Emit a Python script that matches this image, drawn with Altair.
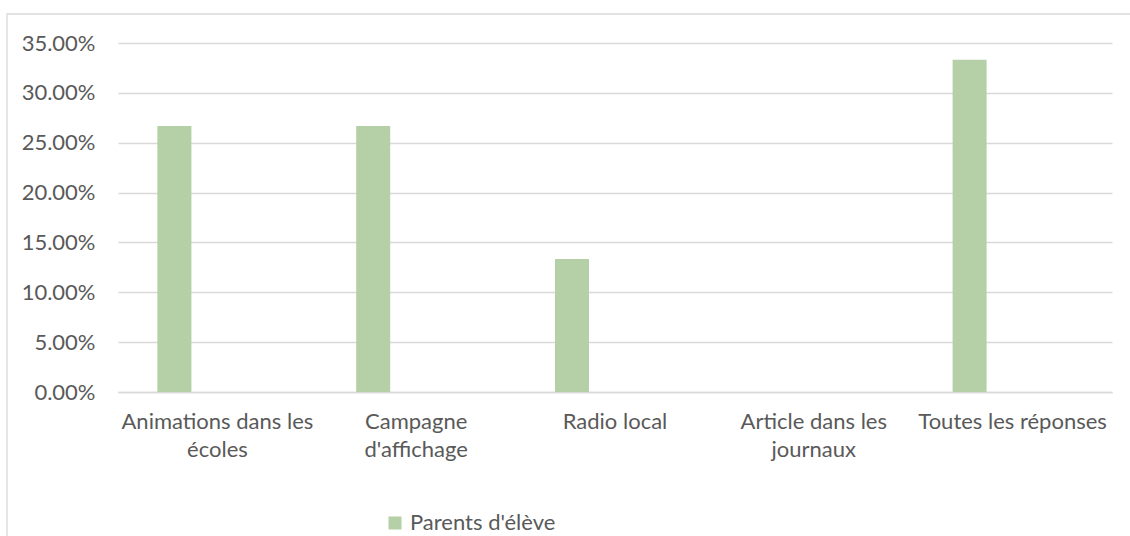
import json
import altair as alt
import pandas as pd

CATEGORIES = ["Animations dans les écoles", "Campagne d'affichage", "Radio local",
              "Article dans les journaux", "Toutes les réponses"]
LABEL_LINES = [["Animations dans les", "écoles"], ["Campagne", "d'affichage"], ["Radio local"],
               ["Article dans les", "journaux"], ["Toutes les réponses"]]
SERIES = "Parents d'élève"
VALUES = [0.2667, 0.2667, 0.1333, 0.0, 0.3333]
Y_TICKS = [0, 0.05, 0.10, 0.15, 0.20, 0.25, 0.30, 0.35]

df = pd.DataFrame({"cat": CATEGORIES, "val": VALUES, "series": [SERIES] * len(CATEGORIES)})

FONT = "Lato"
FS = 22
TXT = "#595959"
GRID = "#d9d9d9"
BAR = "#b5cfa7"

expr = "''"
for c, lines in reversed(list(zip(CATEGORIES, LABEL_LINES))):
    expr = f"datum.value == {json.dumps(c)} ? {json.dumps(lines)} : ({expr})"

bars = alt.Chart(df).mark_bar(size=34, xOffset=-43).encode(
    x=alt.X("cat:N", sort=CATEGORIES, title=None,
            scale=alt.Scale(paddingInner=0, paddingOuter=0),
            axis=alt.Axis(labelExpr=expr, labelAngle=0, labelFont=FONT, labelFontSize=FS,
                          labelColor=TXT, labelLineHeight=28, labelPadding=19,
                          ticks=False, domainColor=GRID, domainWidth=1.3,
                          labelBaseline="top", labelLimit=300)),
    y=alt.Y("val:Q", title=None,
            scale=alt.Scale(domain=[0, 0.35], nice=False),
            axis=alt.Axis(values=Y_TICKS, format=".2%", labelFont=FONT, labelFontSize=FS,
                          labelColor=TXT, labelPadding=23, ticks=False, domain=False,
                          gridColor=GRID, gridWidth=1.3)),
    color=alt.Color("series:N", title=None,
                    scale=alt.Scale(domain=[SERIES], range=[BAR]),
                    legend=alt.Legend(orient="none", legendX=266, legendY=469,
                                      symbolType="square", symbolSize=169,
                                      symbolStrokeWidth=0, labelFont=FONT, labelFontSize=FS,
                                      labelColor=TXT, labelOffset=4)),
)

frame = alt.Chart(alt.Data(values=[{}])).mark_rect(
    fillOpacity=0, stroke=GRID, strokeWidth=1.3
).encode(
    x=alt.value(-111), x2=alt.value(1040), y=alt.value(-29), y2=alt.value(520)
)

chart = alt.layer(frame, bars).properties(
    width=994, height=349,
    autosize=alt.AutoSizeParams(type="none"),
    padding={"left": 118, "top": 43, "right": 18, "bottom": 144},
    background="white",
).configure_view(stroke=None)

chart.save("out.html", embed_options={"renderer": "svg", "actions": False})
